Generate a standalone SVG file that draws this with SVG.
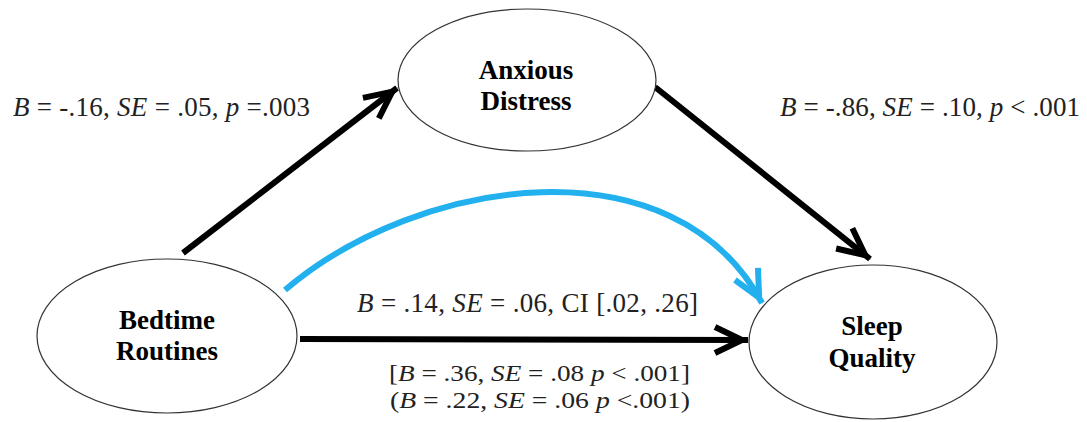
<svg xmlns="http://www.w3.org/2000/svg" width="1087" height="422" viewBox="0 0 1087 422">
<style>
.node{fill:#fff;stroke:#333;stroke-width:1.2}
.nt{font-family:"Liberation Serif","Times New Roman",serif;font-weight:bold;font-size:27px;fill:#000;text-anchor:middle}
.lb{font-family:"Liberation Serif","Times New Roman",serif;font-size:27px;fill:#222}
.sm{font-size:24px}
.i{font-style:italic}
.blk{fill:none;stroke:#000;stroke-width:6}
.blu{fill:none;stroke:#22b0ee;stroke-width:6}
</style>
<defs>
<marker id="ab" markerUnits="userSpaceOnUse" orient="auto" refX="0" refY="0" markerWidth="60" markerHeight="60" viewBox="-40 -30 60 60" overflow="visible">
<path d="M-33,-13 L-6,0 L-33,13" fill="none" stroke="#000" stroke-width="6"/>
</marker>
<marker id="au" markerUnits="userSpaceOnUse" orient="auto" refX="0" refY="0" markerWidth="60" markerHeight="60" viewBox="-40 -30 60 60" overflow="visible">
<path d="M-33,-13 L-6,0 L-33,13" fill="none" stroke="#22b0ee" stroke-width="6"/>
</marker>
</defs>
<rect width="1087" height="422" fill="#fff"/>
<g id="connectors">
<line class="blk" x1="183" y1="253" x2="397" y2="88" marker-end="url(#ab)"/>
<line class="blk" x1="655" y1="87" x2="870" y2="259" marker-end="url(#ab)"/>
<line class="blk" x1="300" y1="339" x2="748" y2="340" marker-end="url(#ab)"/>
<path class="blu" d="M285,290 C420,175 675,140 762,303" marker-end="url(#au)"/>
</g>
<g id="anxious">
<ellipse class="node" cx="527" cy="80" rx="129" ry="71"/>
<text class="nt" x="526" y="79">Anxious</text>
<text class="nt" x="526" y="110">Distress</text>
</g>
<g id="bedtime">
<ellipse class="node" cx="167" cy="336" rx="130" ry="77"/>
<text class="nt" x="167" y="329">Bedtime</text>
<text class="nt" x="167" y="360">Routines</text>
</g>
<g id="sleep">
<ellipse class="node" cx="873" cy="342" rx="124" ry="77"/>
<text class="nt" x="872" y="335">Sleep</text>
<text class="nt" x="872" y="367">Quality</text>
</g>
<g id="labels">
<text class="lb" x="13" y="116" textLength="297"><tspan class="i">B</tspan> = -.16, <tspan class="i">SE</tspan> = .05, <tspan class="i">p</tspan> =.003</text>
<text class="lb" x="780" y="116" textLength="300"><tspan class="i">B</tspan> = -.86, <tspan class="i">SE</tspan> = .10, <tspan class="i">p</tspan> &lt; .001</text>
<text class="lb" x="357" y="312" textLength="341"><tspan class="i">B</tspan> = .14, <tspan class="i">SE</tspan> = .06, CI [.02, .26]</text>
<text class="lb sm" x="389" y="381" textLength="301" lengthAdjust="spacingAndGlyphs">[<tspan class="i">B</tspan> = .36, <tspan class="i">SE</tspan> = .08 <tspan class="i">p</tspan> &lt; .001]</text>
<text class="lb sm" x="390" y="408" textLength="300" lengthAdjust="spacingAndGlyphs">(<tspan class="i">B</tspan> = .22, <tspan class="i">SE</tspan> = .06 <tspan class="i">p</tspan> &lt;.001)</text>
</g>
</svg>
